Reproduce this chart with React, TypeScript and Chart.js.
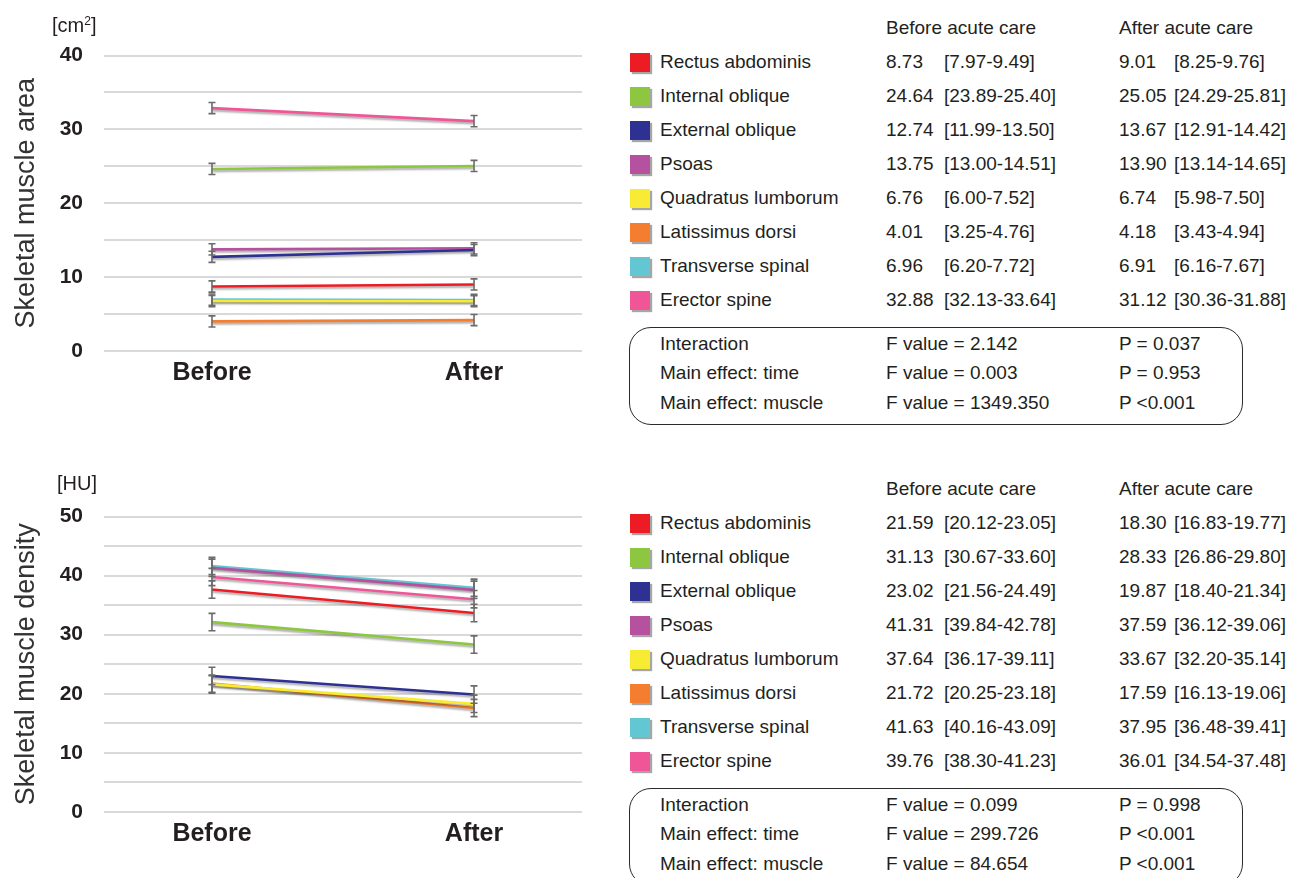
import React, { useEffect, useRef } from 'react';
import { Chart, registerables } from 'chart.js';

Chart.register(...registerables);

const FONT = '"Liberation Sans", Arial, Helvetica, sans-serif';

// ---------- data ----------
const muscles = [
  'Rectus abdominis',
  'Internal oblique',
  'External oblique',
  'Psoas',
  'Quadratus lumborum',
  'Latissimus dorsi',
  'Transverse spinal',
  'Erector spine',
];
const muscleColors = ['#ed1c24', '#8dc63f', '#2e3192', '#b5519e', '#f7ec33', '#f47d30', '#63c7d3', '#ef5597'];
const timeLabels = ['Before', 'After'];
const tableHeaders = ['Before acute care', 'After acute care'];
const statLabels = ['Interaction', 'Main effect: time', 'Main effect: muscle'];

// Skeletal muscle area [cm2]
const areaBefore = [8.73, 24.64, 12.74, 13.75, 6.76, 4.01, 6.96, 32.88];
const areaBeforeLo = [7.97, 23.89, 11.99, 13.0, 6.0, 3.25, 6.2, 32.13];
const areaBeforeHi = [9.49, 25.4, 13.5, 14.51, 7.52, 4.76, 7.72, 33.64];
const areaAfter = [9.01, 25.05, 13.67, 13.9, 6.74, 4.18, 6.91, 31.12];
const areaAfterLo = [8.25, 24.29, 12.91, 13.14, 5.98, 3.43, 6.16, 30.36];
const areaAfterHi = [9.76, 25.81, 14.42, 14.65, 7.5, 4.94, 7.67, 31.88];
const areaF = ['F value = 2.142', 'F value = 0.003', 'F value = 1349.350'];
const areaP = ['P = 0.037', 'P = 0.953', 'P <0.001'];

// Skeletal muscle density [HU] (table)
const densityBefore = [21.59, 31.13, 23.02, 41.31, 37.64, 21.72, 41.63, 39.76];
const densityBeforeLo = [20.12, 30.67, 21.56, 39.84, 36.17, 20.25, 40.16, 38.3];
const densityBeforeHi = [23.05, 33.6, 24.49, 42.78, 39.11, 23.18, 43.09, 41.23];
const densityAfter = [18.3, 28.33, 19.87, 37.59, 33.67, 17.59, 37.95, 36.01];
const densityAfterLo = [16.83, 26.86, 18.4, 36.12, 32.2, 16.13, 36.48, 34.54];
const densityAfterHi = [19.77, 29.8, 21.34, 39.06, 35.14, 19.06, 39.41, 37.48];
const densityF = ['F value = 0.099', 'F value = 299.726', 'F value = 84.654'];
const densityP = ['P = 0.998', 'P <0.001', 'P <0.001'];

// density lines as drawn in the plot (values / colours)
const densityLineBefore = [21.59, 32.13, 23.02, 41.31, 37.64, 21.72, 41.63, 39.76];
const densityLineAfter = [18.3, 28.33, 19.87, 37.59, 33.67, 17.59, 37.95, 36.01];
const densityLineColors = ['#f7ec33', '#8dc63f', '#2e3192', '#b5519e', '#ed1c24', '#f47d30', '#63c7d3', '#ef5597'];

// ---------- chart helpers ----------
const errorBarPlugin = {
  id: 'errorBarsAndShadow',
  beforeDatasetsDraw(chart: any) {
    const ctx = chart.ctx;
    ctx.save();
    ctx.shadowColor = 'rgba(0,0,0,0.33)';
    ctx.shadowOffsetX = 0;
    ctx.shadowOffsetY = 2;
    ctx.shadowBlur = 2;
  },
  afterDatasetsDraw(chart: any) {
    const ctx = chart.ctx;
    ctx.restore();
    const xs = chart.scales.x;
    const ys = chart.scales.y;
    ctx.save();
    ctx.strokeStyle = '#6b6b6b';
    ctx.lineWidth = 1.6;
    chart.data.datasets.forEach((ds: any) => {
      ds.data.forEach((pt: any, i: number) => {
        const px = xs.getPixelForValue(pt.x);
        const y1 = ys.getPixelForValue(ds.errLo[i]);
        const y2 = ys.getPixelForValue(ds.errHi[i]);
        ctx.beginPath();
        ctx.moveTo(px, y1);
        ctx.lineTo(px, y2);
        ctx.moveTo(px - 3.5, y1);
        ctx.lineTo(px + 3.5, y1);
        ctx.moveTo(px - 3.5, y2);
        ctx.lineTo(px + 3.5, y2);
        ctx.stroke();
      });
    });
    ctx.restore();
  },
};

function makeConfig(
  before: number[],
  after: number[],
  bLo: number[],
  bHi: number[],
  aLo: number[],
  aHi: number[],
  colors: string[],
  yMax: number,
  title: string
): any {
  return {
    type: 'line',
    data: {
      datasets: before.map((b, i) => ({
        label: muscles[i],
        data: [
          { x: 0, y: b },
          { x: 1, y: after[i] },
        ],
        errLo: [bLo[i], aLo[i]],
        errHi: [bHi[i], aHi[i]],
        borderColor: colors[i],
        borderWidth: 2.6,
        pointRadius: 0,
        fill: false,
        tension: 0,
      })),
    },
    options: {
      animation: false,
      responsive: false,
      layout: { padding: { top: 55.5, right: 18, left: 0, bottom: 0 } },
      plugins: { legend: { display: false }, tooltip: { enabled: false } },
      scales: {
        x: {
          type: 'linear',
          min: -0.412,
          max: 1.412,
          grid: { display: false },
          border: { display: false },
          afterBuildTicks: (s: any) => {
            s.ticks = [{ value: 0 }, { value: 1 }];
          },
          afterFit: (s: any) => {
            s.height = 49;
          },
          ticks: {
            callback: (v: any) => timeLabels[v] ?? '',
            font: { family: FONT, size: 25, weight: 'bold' },
            color: '#231f20',
            padding: -1,
            maxRotation: 0,
            autoSkip: false,
          },
        },
        y: {
          min: 0,
          max: yMax,
          afterFit: (s: any) => {
            s.width = 104;
          },
          ticks: {
            stepSize: 5,
            autoSkip: false,
            callback: (v: any) => (v % 10 === 0 ? String(v) : ''),
            font: { family: FONT, size: 21, weight: 'bold' },
            color: '#231f20',
            padding: 21,
          },
          grid: { color: '#d9d9d9', lineWidth: 2, drawTicks: false },
          border: { display: false },
          title: {
            display: true,
            text: title,
            font: { family: FONT, size: 27 },
            color: '#333333',
            padding: { top: 10, bottom: 0 },
          },
        },
      },
    },
    plugins: [errorBarPlugin],
  };
}

// ---------- text helpers ----------
const textBase: React.CSSProperties = {
  position: 'absolute',
  fontFamily: FONT,
  fontSize: 19,
  lineHeight: '24px',
  height: 24,
  whiteSpace: 'nowrap',
  color: '#231f20',
};

function T({ x, y, children }: { x: number; y: number; children: React.ReactNode }) {
  return <div style={{ ...textBase, left: x, top: y - 12 }}>{children}</div>;
}

function TablePanel({
  offsetY,
  before,
  bLo,
  bHi,
  after,
  aLo,
  aHi,
  fVals,
  pVals,
}: {
  offsetY: number;
  before: number[];
  bLo: number[];
  bHi: number[];
  after: number[];
  aLo: number[];
  aHi: number[];
  fVals: string[];
  pVals: string[];
}) {
  const rowY = (i: number) => offsetY + 62.3 + 34 * i;
  const statY = [344.3, 373.3, 402.7];
  return (
    <>
      <T x={886} y={offsetY + 28.3}>{tableHeaders[0]}</T>
      <T x={1119} y={offsetY + 28.3}>{tableHeaders[1]}</T>
      {muscles.map((m, i) => (
        <React.Fragment key={m}>
          <div
            style={{
              position: 'absolute',
              left: 630,
              top: rowY(i) - 9.5,
              width: 20,
              height: 19,
              background: muscleColors[i],
              boxShadow: '2px 2px 1px rgba(0,0,0,0.35)',
            }}
          />
          <T x={660} y={rowY(i)}>{m}</T>
          <T x={886} y={rowY(i)}>{before[i].toFixed(2)}</T>
          <T x={944} y={rowY(i)}>{`[${bLo[i].toFixed(2)}-${bHi[i].toFixed(2)}]`}</T>
          <T x={1119} y={rowY(i)}>{after[i].toFixed(2)}</T>
          <T x={1174} y={rowY(i)}>{`[${aLo[i].toFixed(2)}-${aHi[i].toFixed(2)}]`}</T>
        </React.Fragment>
      ))}
      <div
        style={{
          position: 'absolute',
          left: 629,
          top: offsetY + 326.5,
          width: 612,
          height: 96,
          border: '1.5px solid #2b2b2b',
          borderRadius: 22,
        }}
      />
      {statLabels.map((s, i) => (
        <React.Fragment key={s}>
          <T x={660} y={offsetY + statY[i]}>{s}</T>
          <T x={886} y={offsetY + statY[i]}>{fVals[i]}</T>
          <T x={1119} y={offsetY + statY[i]}>{pVals[i]}</T>
        </React.Fragment>
      ))}
    </>
  );
}

export default function App() {
  const areaRef = useRef<HTMLCanvasElement>(null);
  const densRef = useRef<HTMLCanvasElement>(null);

  useEffect(() => {
    if (!areaRef.current || !densRef.current) return;
    const c1 = new Chart(
      areaRef.current,
      makeConfig(areaBefore, areaAfter, areaBeforeLo, areaBeforeHi, areaAfterLo, areaAfterHi, muscleColors, 40, 'Skeletal muscle area')
    );
    const c2 = new Chart(
      densRef.current,
      makeConfig(
        densityLineBefore,
        densityLineAfter,
        densityBeforeLo,
        densityBeforeHi,
        densityAfterLo,
        densityAfterHi,
        densityLineColors,
        50,
        'Skeletal muscle density'
      )
    );
    return () => {
      c1.destroy();
      c2.destroy();
    };
  }, []);

  return (
    <div
      style={{
        position: 'absolute',
        left: 0,
        top: 0,
        width: 1295,
        height: 878,
        overflow: 'hidden',
        background: '#ffffff',
        fontFamily: FONT,
      }}
    >
      <canvas ref={areaRef} width={600} height={400} style={{ position: 'absolute', left: 0, top: 0, width: 600, height: 400 }} />
      <canvas ref={densRef} width={600} height={400} style={{ position: 'absolute', left: 0, top: 461, width: 600, height: 400 }} />
      <div style={{ ...textBase, fontSize: 20, left: 52, top: 13, color: '#231f20' }}>
        [cm<sup style={{ fontSize: 12, verticalAlign: 'top', position: 'relative', top: -4 }}>2</sup>]
      </div>
      <div style={{ ...textBase, fontSize: 20, left: 57, top: 471, color: '#231f20' }}>[HU]</div>
      <TablePanel
        offsetY={0}
        before={areaBefore}
        bLo={areaBeforeLo}
        bHi={areaBeforeHi}
        after={areaAfter}
        aLo={areaAfterLo}
        aHi={areaAfterHi}
        fVals={areaF}
        pVals={areaP}
      />
      <TablePanel
        offsetY={461}
        before={densityBefore}
        bLo={densityBeforeLo}
        bHi={densityBeforeHi}
        after={densityAfter}
        aLo={densityAfterLo}
        aHi={densityAfterHi}
        fVals={densityF}
        pVals={densityP}
      />
    </div>
  );
}
